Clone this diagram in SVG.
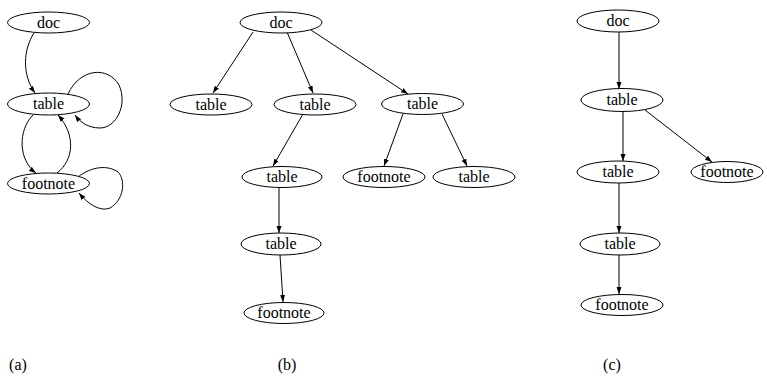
<svg xmlns="http://www.w3.org/2000/svg" width="767" height="377" viewBox="0 0 767 377">
<style>
  .n ellipse { fill: #fff; stroke: #000; stroke-width: 1; }
  text { font-family: 'Liberation Serif', 'Times New Roman', Times, serif; font-size: 16px; fill: #000; text-anchor: middle; }
  .e path, .e line { fill: none; stroke: #000; stroke-width: 1; marker-end: url(#ah); }
</style>
<defs>
  <marker id="ah" markerUnits="userSpaceOnUse" markerWidth="8" markerHeight="6" refX="7" refY="2.5" orient="auto">
    <path d="M0,0 L7,2.5 L0,5 Z" fill="#000"/>
  </marker>
</defs>
<rect width="767" height="377" fill="#fff"/>

<g id="connectors" class="e">
  <!-- (a) -->
  <path d="M34,33 C23,50 22,75 35,93"/>
  <path d="M68,94 C80,68 108,66 119,85 C128,105 116,128 100,128 C88,128 80,122 75,115"/>
  <path d="M33,115 C18,130 18,160 36,173"/>
  <path d="M57,173 C74,160 76,135 58,115"/>
  <path d="M78,177 C92,166 108,165 118,172 C126,180 124,200 110,208 C100,212 88,204 79,193"/>
  <!-- (b) -->
  <line x1="253" y1="32" x2="213" y2="93"/>
  <line x1="287" y1="32" x2="313" y2="93"/>
  <line x1="311" y1="30" x2="408" y2="94"/>
  <line x1="303" y1="114" x2="273" y2="166"/>
  <line x1="403" y1="114" x2="384" y2="166"/>
  <line x1="442" y1="114" x2="467" y2="166"/>
  <line x1="279" y1="188" x2="279" y2="233"/>
  <line x1="280" y1="255" x2="283" y2="302"/>
  <!-- (c) -->
  <line x1="619" y1="32" x2="619" y2="89"/>
  <line x1="623" y1="111" x2="623" y2="161"/>
  <line x1="645" y1="110" x2="712" y2="162"/>
  <line x1="619" y1="183" x2="619" y2="233"/>
  <line x1="619" y1="255" x2="619" y2="294"/>
</g>

<g font-family="Liberation Serif, serif">
<!-- (a) nodes -->
<g id="a_doc" class="n"><ellipse cx="48.5" cy="22.5" rx="41" ry="10.5"/><text x="48.5" y="27.5">doc</text></g>
<g id="a_table" class="n"><ellipse cx="48.5" cy="104" rx="41" ry="11"/><text x="48.5" y="109">table</text></g>
<g id="a_footnote" class="n"><ellipse cx="48.5" cy="183.5" rx="41" ry="10.5"/><text x="48.5" y="188.5">footnote</text></g>

<!-- (b) nodes -->
<g id="b_doc" class="n"><ellipse cx="281" cy="22.5" rx="41" ry="10.5"/><text x="281" y="27.5">doc</text></g>
<g id="b_table1" class="n"><ellipse cx="211" cy="104.5" rx="41" ry="10.5"/><text x="211" y="109.5">table</text></g>
<g id="b_table2" class="n"><ellipse cx="315" cy="104.5" rx="41" ry="10.5"/><text x="315" y="109.5">table</text></g>
<g id="b_table3" class="n"><ellipse cx="422.5" cy="104" rx="41" ry="10.5"/><text x="422.5" y="109">table</text></g>
<g id="b_table4" class="n"><ellipse cx="282" cy="177" rx="40" ry="10.5"/><text x="282" y="182">table</text></g>
<g id="b_footnote1" class="n"><ellipse cx="384" cy="177" rx="41" ry="10.5"/><text x="384" y="182">footnote</text></g>
<g id="b_table5" class="n"><ellipse cx="474" cy="177" rx="41" ry="10.5"/><text x="474" y="182">table</text></g>
<g id="b_table6" class="n"><ellipse cx="281" cy="244" rx="40" ry="11"/><text x="281" y="249">table</text></g>
<g id="b_footnote2" class="n"><ellipse cx="284" cy="313" rx="40" ry="10.5"/><text x="284" y="318">footnote</text></g>

<!-- (c) nodes -->
<g id="c_doc" class="n"><ellipse cx="618" cy="21" rx="41" ry="11"/><text x="618" y="26">doc</text></g>
<g id="c_table1" class="n"><ellipse cx="622" cy="100" rx="41" ry="11.5"/><text x="622" y="105">table</text></g>
<g id="c_table2" class="n"><ellipse cx="618" cy="172" rx="41" ry="11"/><text x="618" y="177">table</text></g>
<g id="c_footnote1" class="n"><ellipse cx="727" cy="172" rx="36" ry="10.5"/><text x="727" y="177">footnote</text></g>
<g id="c_table3" class="n"><ellipse cx="620" cy="244" rx="40" ry="11"/><text x="620" y="249">table</text></g>
<g id="c_footnote2" class="n"><ellipse cx="622" cy="305" rx="41" ry="10.5"/><text x="622" y="310">footnote</text></g>

<text x="18" y="370">(a)</text>
<text x="287" y="370">(b)</text>
<text x="612" y="370">(c)</text>
</g>
</svg>
